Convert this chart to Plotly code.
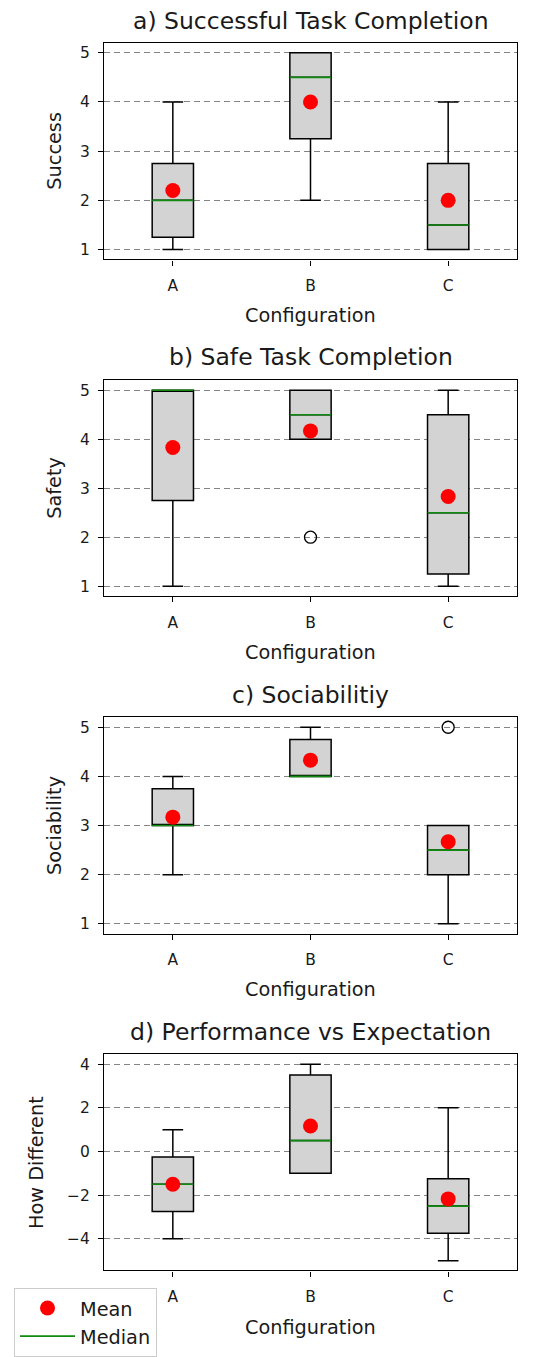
import plotly.graph_objects as go

# ---------------- data ----------------
categories = ["A", "B", "C"]
titles = ["a) Successful Task Completion", "b) Safe Task Completion",
          "c) Sociabilitiy", "d) Performance vs Expectation"]
ylabels = ["Success", "Safety", "Sociability", "How Different"]
xlabel = "Configuration"

# panel a
success_low = [1, 2, 1]
success_q1 = [1.25, 3.25, 1]
success_med = [2, 4.5, 1.5]
success_q3 = [2.75, 5, 2.75]
success_high = [4, 5, 4]
success_mean = [2.2, 4.0, 2.0]
success_out_x = []
success_out_y = []

# panel b
safety_low = [1, 4, 1]
safety_q1 = [2.75, 4, 1.25]
safety_med = [5, 4.5, 2.5]
safety_q3 = [5, 5, 4.5]
safety_high = [5, 5, 5]
safety_mean = [3.83, 4.17, 2.83]
safety_out_x = ["B"]
safety_out_y = [2]

# panel c
social_low = [2, 4, 1]
social_q1 = [3, 4, 2]
social_med = [3, 4, 2.5]
social_q3 = [3.75, 4.75, 3]
social_high = [4, 5, 3]
social_mean = [3.17, 4.33, 2.67]
social_out_x = ["C"]
social_out_y = [5]

# panel d
diff_low = [-4, -1, -5]
diff_q1 = [-2.75, -1, -3.75]
diff_med = [-1.5, 0.5, -2.5]
diff_q3 = [-0.25, 3.5, -1.25]
diff_high = [1, 4, 2]
diff_mean = [-1.5, 1.17, -2.17]
diff_out_x = []
diff_out_y = []

panels = [
    (success_low, success_q1, success_med, success_q3, success_high, success_mean, success_out_x, success_out_y),
    (safety_low, safety_q1, safety_med, safety_q3, safety_high, safety_mean, safety_out_x, safety_out_y),
    (social_low, social_q1, social_med, social_q3, social_high, social_mean, social_out_x, social_out_y),
    (diff_low, diff_q1, diff_med, diff_q3, diff_high, diff_mean, diff_out_x, diff_out_y),
]
yranges = [[0.8, 5.2], [0.8, 5.2], [0.8, 5.2], [-5.45, 4.45]]
ydticks = [1, 1, 1, 2]

# ---------------- layout geometry (pixels) ----------------
W, H = 542, 1357
FONT = "DejaVu Sans"
TXT = "#1a1a1a"
plot_left, plot_right = 104, 517
plot_tops = [43, 381.3, 719, 1056.7]
plot_bottoms = [260, 597.3, 935.7, 1273.3]
title_y = [21, 358, 697, 1034.5]
xlabel_y = [316, 654, 992, 1330]
ylabel_x = [54.5, 54.5, 54.5, 36.5]
BOX_W = 0.3

def px(x):
    return x / W

def py(y):
    return 1 - y / H

positions = list(range(1, len(categories) + 1))
cat_pos = {c: p for c, p in zip(categories, positions)}

fig = go.Figure()
layout_axes = {}
annotations = []

for i, (low, q1, med, q3, high, mean, out_x, out_y) in enumerate(panels):
    n = i + 1
    xa = "x" if n == 1 else f"x{n}"
    ya = "y" if n == 1 else f"y{n}"

    fig.add_trace(go.Box(
        x=positions, q1=q1, median=med, q3=q3,
        lowerfence=low, upperfence=high,
        width=BOX_W, whiskerwidth=0.5,
        fillcolor="#d3d3d3", line=dict(color="black", width=1.5),
        boxpoints=False, showlegend=False, hoverinfo="skip",
        xaxis=xa, yaxis=ya,
    ))

    mx, my = [], []
    for p, m in zip(positions, med):
        mx += [p - BOX_W / 2, p + BOX_W / 2, None]
        my += [m, m, None]
    fig.add_trace(go.Scatter(
        x=mx, y=my, mode="lines", line=dict(color="#108a10", width=1.6),
        name="Median", showlegend=(n == 1), legendrank=2, legendgroup="med",
        xaxis=xa, yaxis=ya, hoverinfo="skip",
    ))

    fig.add_trace(go.Scatter(
        x=positions, y=mean, mode="markers",
        marker=dict(color="#ff0000", size=15),
        name="Mean", showlegend=(n == 1), legendrank=1, legendgroup="mean",
        xaxis=xa, yaxis=ya,
    ))

    if out_x:
        fig.add_trace(go.Scatter(
            x=[cat_pos[c] for c in out_x], y=out_y, mode="markers",
            marker=dict(symbol="circle-open", color="black", size=12,
                        line=dict(width=1.3, color="black")),
            showlegend=False, xaxis=xa, yaxis=ya,
        ))

    ydom = [py(plot_bottoms[i]), py(plot_tops[i])]
    layout_axes["xaxis" if n == 1 else f"xaxis{n}"] = dict(
        domain=[px(plot_left), px(plot_right)], anchor=ya,
        range=[0.5, 3.5], tickvals=positions, ticktext=categories,
        showgrid=False, zeroline=False,
        showline=True, linecolor="black", linewidth=1.2, mirror=True,
        ticks="outside", ticklen=5, tickcolor="black", tickwidth=1.2,
        tickfont=dict(family=FONT, size=15.5, color=TXT),
        ticklabelstandoff=7, fixedrange=True,
    )
    layout_axes["yaxis" if n == 1 else f"yaxis{n}"] = dict(
        domain=ydom, anchor=xa, range=yranges[i], dtick=ydticks[i], tick0=0,
        showgrid=True, gridcolor="rgba(110,110,110,0.85)", gridwidth=1,
        griddash="6px,4px", zeroline=False,
        showline=True, linecolor="black", linewidth=1.2, mirror=True,
        ticks="outside", ticklen=5, tickcolor="black", tickwidth=1.2,
        tickfont=dict(family=FONT, size=15.5, color=TXT),
        ticklabelstandoff=5, fixedrange=True,
    )

    cx = (plot_left + plot_right) / 2
    annotations.append(dict(
        text=titles[i], x=px(cx), y=py(title_y[i]), xref="paper", yref="paper",
        xanchor="center", yanchor="middle", showarrow=False,
        font=dict(family=FONT, size=23.5, color=TXT),
    ))
    annotations.append(dict(
        text=xlabel, x=px(cx), y=py(xlabel_y[i]), xref="paper", yref="paper",
        xanchor="center", yanchor="middle", showarrow=False,
        font=dict(family=FONT, size=19.3, color=TXT),
    ))
    annotations.append(dict(
        text=ylabels[i], x=px(ylabel_x[i]),
        y=py((plot_tops[i] + plot_bottoms[i]) / 2), xref="paper", yref="paper",
        xanchor="center", yanchor="middle", showarrow=False, textangle=-90,
        font=dict(family=FONT, size=19.3, color=TXT),
    ))

fig.update_layout(
    width=W, height=H,
    margin=dict(l=0, r=0, t=0, b=0),
    paper_bgcolor="white", plot_bgcolor="white",
    showlegend=True,
    legend=dict(
        x=px(14), y=py(1291), xanchor="left", yanchor="top",
        bgcolor="white", bordercolor="#cccccc", borderwidth=1,
        font=dict(family=FONT, size=19.3, color=TXT),
        traceorder="normal", itemwidth=55,
    ),
    annotations=annotations,
    **layout_axes,
)

fig.write_html("out.html", config={"displayModeBar": False},
               post_script="document.body.style.margin='0px';")
